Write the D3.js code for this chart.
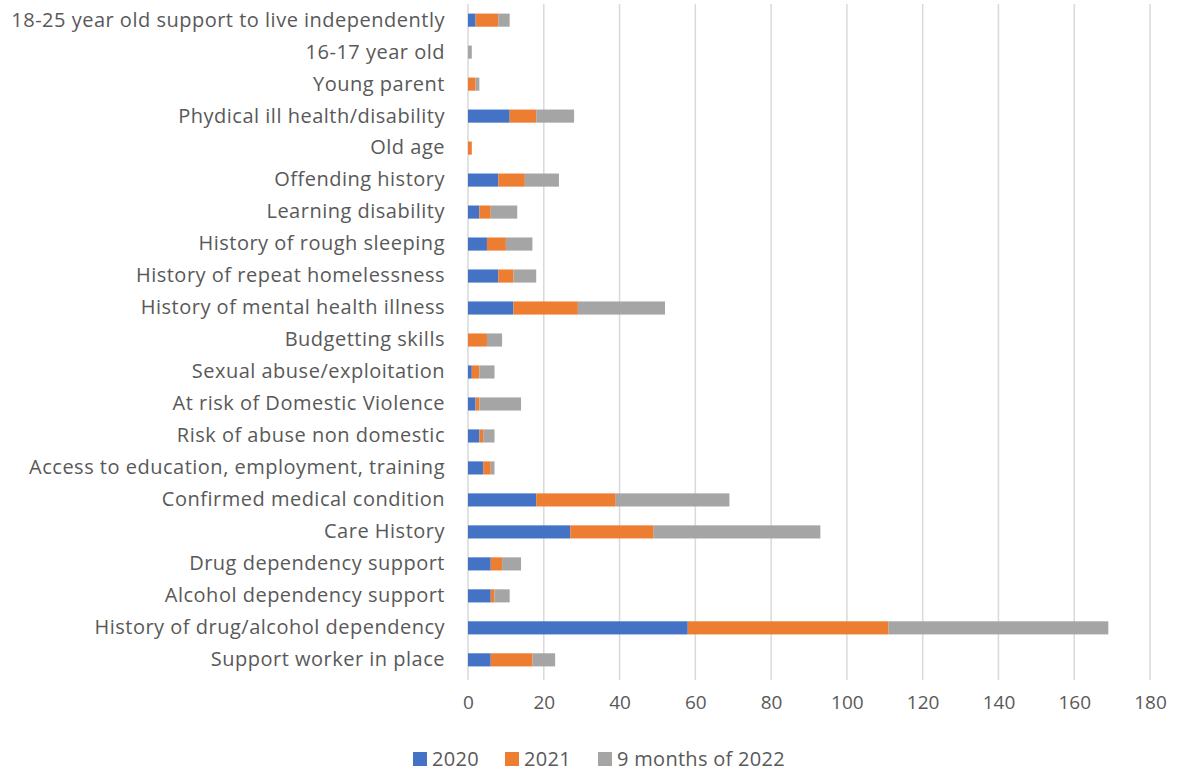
<!DOCTYPE html>
<html>
<head>
<meta charset="utf-8">
<script src="https://cdn.jsdelivr.net/npm/d3@7"></script>
<style>
  html, body { margin: 0; padding: 0; background: #fff; }
  text { font-family: "Open Sans", "Liberation Sans", sans-serif; fill: #595959; }
</style>
</head>
<body>
<svg id="chart" width="1179" height="772"></svg>
<script>
// Categories listed top to bottom
const categories = [
  "18-25 year old support to live independently",
  "16-17 year old",
  "Young parent",
  "Phydical ill health/disability",
  "Old age",
  "Offending history",
  "Learning disability",
  "History of rough sleeping",
  "History of repeat homelessness",
  "History of mental health illness",
  "Budgetting skills",
  "Sexual abuse/exploitation",
  "At risk of Domestic Violence",
  "Risk of abuse non domestic",
  "Access to education, employment, training",
  "Confirmed medical condition",
  "Care History",
  "Drug dependency support",
  "Alcohol dependency support",
  "History of drug/alcohol dependency",
  "Support worker in place"
];
const seriesNames = ["2020", "2021", "9 months of 2022"];
const values2020 = [2, 0, 0, 11, 0, 8, 3, 5, 8, 12, 0, 1, 2, 3, 4, 18, 27, 6, 6, 58, 6];
const values2021 = [6, 0, 2, 7, 1, 7, 3, 5, 4, 17, 5, 2, 1, 1, 2, 21, 22, 3, 1, 53, 11];
const values2022 = [3, 1, 1, 10, 0, 9, 7, 7, 6, 23, 4, 4, 11, 3, 1, 30, 44, 5, 4, 58, 6];
const xTicks = [0, 20, 40, 60, 80, 100, 120, 140, 160, 180];
const colors = ["#4472c4", "#ed7d31", "#a5a5a5"];

const svg = d3.select("#chart");
const plotLeft = 468, plotRight = 1150, plotTop = 4, plotBottom = 676;

const rows = categories.map((c, i) => ({
  category: c,
  "2020": values2020[i],
  "2021": values2021[i],
  "9 months of 2022": values2022[i]
}));
const stacked = d3.stack().keys(seriesNames)(rows);

const x = d3.scaleLinear().domain([0, 180]).range([plotLeft, plotRight]);
const y = d3.scaleBand().domain(categories).range([plotTop, plotBottom]).paddingInner(0.59).paddingOuter(0.3);

// vertical gridlines
svg.append("g")
  .selectAll("line")
  .data(xTicks)
  .join("line")
  .attr("x1", d => x(d)).attr("x2", d => x(d))
  .attr("y1", plotTop).attr("y2", plotBottom + 4)
  .attr("stroke", "#d9d9d9")
  .attr("stroke-width", 1.5);

// stacked bars
svg.append("g")
  .selectAll("g")
  .data(stacked)
  .join("g")
  .attr("fill", (d, i) => colors[i])
  .selectAll("rect")
  .data(d => d)
  .join("rect")
  .attr("x", d => x(d[0]))
  .attr("y", d => y(d.data.category))
  .attr("width", d => Math.max(0, x(d[1]) - x(d[0])))
  .attr("height", y.bandwidth());

// x axis labels
const xAxis = d3.axisBottom(x).tickValues(xTicks).tickSize(0).tickPadding(0);
const gx = svg.append("g").attr("transform", `translate(0, 695)`).call(xAxis);
gx.select(".domain").remove();
gx.selectAll("text")
  .attr("dy", "0.71em")
  .style("font-size", "19px")
  .style("font-family", '"Open Sans", "Liberation Sans", sans-serif')
  .attr("fill", "#595959");

// y axis labels
const yAxis = d3.axisLeft(y).tickSize(0).tickPadding(23);
const gy = svg.append("g").attr("transform", `translate(${plotLeft}, 0)`).call(yAxis);
gy.select(".domain").remove();
gy.selectAll("text")
  .style("font-size", "20px")
  .style("letter-spacing", "0.5px")
  .style("font-family", '"Open Sans", "Liberation Sans", sans-serif')
  .attr("fill", "#595959");

// legend
const legendItems = [
  { name: seriesNames[0], x: 413 },
  { name: seriesNames[1], x: 505 },
  { name: seriesNames[2], x: 598 }
];
const lg = svg.append("g").selectAll("g").data(legendItems).join("g")
  .attr("transform", d => `translate(${d.x}, 759)`);
lg.append("rect")
  .attr("x", 0).attr("y", -7).attr("width", 14).attr("height", 14)
  .attr("fill", (d, i) => colors[i]);
lg.append("text")
  .attr("x", 19).attr("y", 0).attr("dy", "0.35em")
  .style("font-size", "20px")
  .style("letter-spacing", "0.3px")
  .text(d => d.name);
</script>
</body>
</html>
